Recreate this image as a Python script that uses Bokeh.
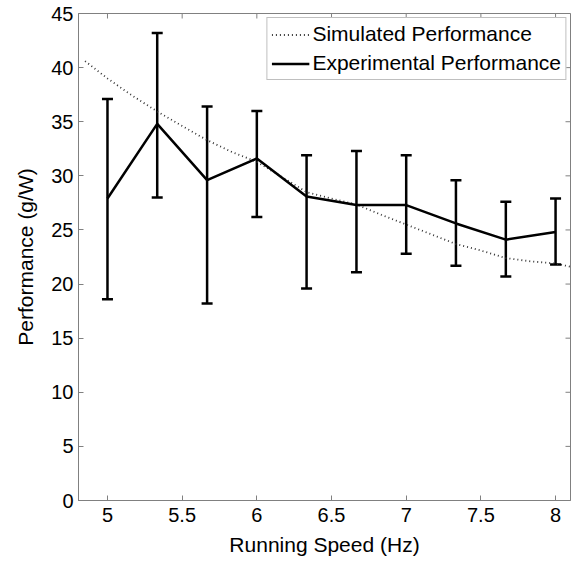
import math
from bokeh.plotting import figure
from bokeh.models import (ColumnDataSource, Whisker, TeeHead, FixedTicker,
                          Range1d, Legend, LegendItem)
from bokeh.embed import file_html
from bokeh.resources import INLINE

# Data
exp_x = [5.0, 5.333, 5.667, 6.0, 6.333, 6.667, 7.0, 7.333, 7.667, 8.0]
exp_mean = [27.9, 34.8, 29.6, 31.6, 28.1, 27.3, 27.3, 25.6, 24.1, 24.8]
exp_upper = [37.1, 43.2, 36.4, 36.0, 31.9, 32.3, 31.9, 29.6, 27.6, 27.9]
exp_lower = [18.6, 28.0, 18.2, 26.2, 19.6, 21.1, 22.8, 21.7, 20.7, 21.8]

sim_x = [4.85, 5.0, 5.167, 5.333, 5.5, 5.667, 5.833, 6.0, 6.167, 6.333, 6.5,
         6.667, 6.833, 7.0, 7.167, 7.333, 7.5, 7.667, 7.833, 8.0, 8.1]
sim_y = [40.6, 39.0, 37.4, 35.95, 34.6, 33.3, 32.2, 31.3, 29.9, 28.5, 27.9,
         27.35, 26.4, 25.5, 24.6, 23.7, 23.1, 22.4, 22.1, 21.9, 21.6]

x_ticks = [5, 5.5, 6, 6.5, 7, 7.5, 8]
y_ticks = [0, 5, 10, 15, 20, 25, 30, 35, 40, 45]

X_MIN, X_MAX = 4.806, 8.1
Y_MIN, Y_MAX = 0, 45

FONT = "Liberation Sans"
AXIS_COLOR = "#808080"

p = figure(frame_width=492, frame_height=487,
           min_border_left=78, min_border_top=13, min_border_right=5, min_border_bottom=52,
           x_range=Range1d(X_MIN, X_MAX), y_range=Range1d(Y_MIN, Y_MAX),
           output_backend="svg", toolbar_location=None)
p.xgrid.visible = False
p.ygrid.visible = False
p.outline_line_color = AXIS_COLOR
p.background_fill_color = "white"
p.border_fill_color = "white"

src = ColumnDataSource(dict(x=exp_x, mean=exp_mean, upper=exp_upper, lower=exp_lower))

sim = p.line(sim_x, sim_y, line_color="#333333", line_width=1.8, line_dash="1 3")
exp = p.line("x", "mean", source=src, line_color="black", line_width=2.5)

w = Whisker(base="x", upper="upper", lower="lower", source=src,
            line_color="black", line_width=2.5,
            upper_head=TeeHead(size=11, line_width=2.5, line_color="black"),
            lower_head=TeeHead(size=11, line_width=2.5, line_color="black"))
p.add_layout(w)

# mirrored inward ticks on top and right edges (clipped to the frame)
p.scatter(x_ticks, [Y_MAX] * len(x_ticks), marker="dash", size=10, angle=math.pi / 2,
          line_color=AXIS_COLOR, line_width=1)
p.scatter([X_MAX] * len(y_ticks), y_ticks, marker="dash", size=10,
          line_color=AXIS_COLOR, line_width=1)

def style_axis(ax, ticks):
    ax.ticker = FixedTicker(ticks=ticks)
    ax.minor_tick_line_color = None
    ax.major_tick_in = 5
    ax.major_tick_out = 0
    ax.axis_line_color = AXIS_COLOR
    ax.major_tick_line_color = AXIS_COLOR
    ax.major_label_text_font = FONT
    ax.major_label_text_color = "black"
    ax.major_label_text_font_size = "20px"
    ax.axis_label_text_font = FONT
    ax.axis_label_text_font_style = "normal"
    ax.axis_label_text_color = "black"
    ax.axis_label_text_font_size = "21px"

xa = p.xaxis[0]
ya = p.yaxis[0]
style_axis(xa, x_ticks)
style_axis(ya, y_ticks)
xa.axis_label = "Running Speed (Hz)"
ya.axis_label = "Performance (g/W)"
xa.major_label_standoff = 7
xa.axis_label_standoff = 8
ya.major_label_standoff = 5
ya.axis_label_standoff = 11

legend = Legend(items=[LegendItem(label="Simulated Performance", renderers=[sim]),
                       LegendItem(label="Experimental Performance", renderers=[exp])],
                location="top_right")
legend.margin = 4
legend.padding = 4
legend.spacing = 5
legend.glyph_width = 38
legend.glyph_height = 23
legend.label_height = 23
legend.label_standoff = 3
legend.label_text_font = FONT
legend.label_text_font_size = "21px"
legend.label_text_color = "black"
legend.border_line_color = AXIS_COLOR
legend.border_line_width = 1
legend.background_fill_color = "white"
legend.background_fill_alpha = 1.0
p.add_layout(legend, "center")

open("out.html", "w").write(file_html(p, INLINE))
